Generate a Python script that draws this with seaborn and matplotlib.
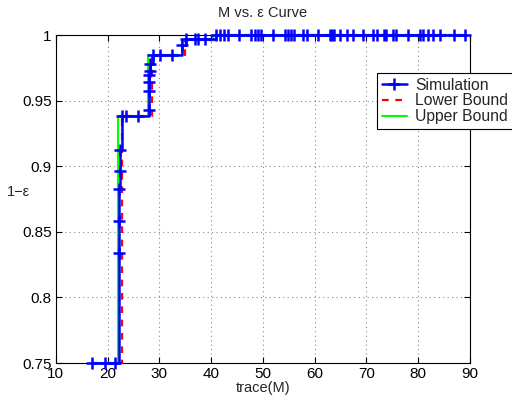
import matplotlib
matplotlib.use("Agg")
import matplotlib.pyplot as plt
import seaborn as sns
import pandas as pd

# ---- data ----
sim_x = [17.0, 19.5, 21.5, 22.2, 22.3, 22.3, 22.4, 22.4, 22.7, 23.5, 25.9,
         28.0, 28.0, 28.1, 28.1, 28.2, 28.2, 28.7, 30.2, 32.5, 34.4,
         35.1, 36.9, 37.5, 38.9, 41.0, 41.7, 42.5, 43.3, 45.4, 47.8, 48.5,
         49.1, 49.6, 51.9, 54.3, 54.9, 55.5, 56.0, 57.8, 58.6, 60.7, 62.9,
         63.3, 63.7, 64.9, 66.2, 67.4, 69.4, 71.2, 72.0, 73.4, 73.8, 75.2,
         75.8, 78.1, 80.3, 80.9, 81.9, 82.9, 84.2, 86.9, 89.0]
sim_y = [0.75, 0.75, 0.75, 0.834, 0.858, 0.883, 0.896, 0.912, 0.9385, 0.9385, 0.9385,
         0.9428, 0.9575, 0.9644, 0.9695, 0.9728, 0.9779, 0.9848, 0.9848, 0.9848, 0.9925,
         0.997, 0.997, 0.997, 0.997, 1.0, 1.0, 1.0, 1.0, 1.0, 1.0, 1.0,
         1.0, 1.0, 1.0, 1.0, 1.0, 1.0, 1.0, 1.0, 1.0, 1.0, 1.0,
         1.0, 1.0, 1.0, 1.0, 1.0, 1.0, 1.0, 1.0, 1.0, 1.0, 1.0,
         1.0, 1.0, 1.0, 1.0, 1.0, 1.0, 1.0, 1.0, 1.0]

low_x = [17.0, 22.7, 28.6, 35.0, 40.8, 89.0]
low_y = [0.75, 0.9385, 0.9848, 0.9964, 1.0, 1.0]

up_x = [17.0, 22.0, 27.85, 34.3, 40.3, 89.0]
up_y = [0.75, 0.9385, 0.9848, 0.9964, 1.0, 1.0]

x_ticks = [10, 20, 30, 40, 50, 60, 70, 80, 90]
y_ticks = [0.75, 0.8, 0.85, 0.9, 0.95, 1.0]
y_tick_labels = ["0.75", "0.8", "0.85", "0.9", "0.95", "1"]

sns.set_theme(style="white")
plt.rcParams['font.family'] = ['Liberation Sans', 'DejaVu Sans']

fig = plt.figure(figsize=(5.12, 3.96), dpi=100)
ax = fig.add_axes([0.109, 0.0833, 0.8086, 0.8283])

sim_df = pd.DataFrame({"x": sim_x, "y": sim_y})
low_df = pd.DataFrame({"x": low_x, "y": low_y})
up_df = pd.DataFrame({"x": up_x, "y": up_y})

sns.lineplot(data=sim_df, x="x", y="y", ax=ax, sort=False, estimator=None,
             drawstyle="steps-post", color=(0, 0, 1), linewidth=1.8,
             marker="+", markersize=8.5, markeredgewidth=1.8,
             markeredgecolor=(0, 0, 1), label="Simulation", zorder=5,
             clip_on=False)
sns.lineplot(data=low_df, x="x", y="y", ax=ax, sort=False, estimator=None,
             drawstyle="steps-post", color=(1, 0, 0), linewidth=1.6,
             linestyle=(0, (3, 3)), label="Lower Bound", zorder=3,
             clip_on=False)
sns.lineplot(data=up_df, x="x", y="y", ax=ax, sort=False, estimator=None,
             drawstyle="steps-post", color=(0, 1, 0), linewidth=1.5,
             label="Upper Bound", zorder=4, clip_on=False)

ax.set_xlim(10, 90)
ax.set_ylim(0.75, 1.0)
ax.set_xticks(x_ticks)
ax.set_xticklabels([str(t) for t in x_ticks])
ax.set_yticks(y_ticks)
ax.set_yticklabels(y_tick_labels)
ax.grid(True, linestyle=(0, (1, 3)), color="#888888", linewidth=0.8)
for s in ax.spines.values():
    s.set_color("black")
    s.set_linewidth(0.8)
    s.set_visible(True)
ax.tick_params(axis="both", direction="in", length=4, width=0.8, colors="black",
               labelsize=11, top=True, right=True, bottom=True, left=True, pad=3)

ax.set_title("M vs. \u03b5 Curve", fontsize=10.5, pad=13)
ax.set_xlabel("trace(M)", fontsize=10.5, labelpad=0)
ax.set_ylabel("1\u2212\u03b5", fontsize=10.5, rotation=0)
ax.yaxis.set_label_coords(-0.09, 0.5)

leg = ax.legend(loc="upper left", bbox_to_anchor=(0.736, 0.816),
                bbox_transform=fig.transFigure, fontsize=11.3, frameon=True,
                fancybox=False, edgecolor="black", framealpha=1,
                handlelength=1.65, borderpad=0.3, labelspacing=0.05,
                handletextpad=0.5, borderaxespad=0)
leg.get_frame().set_linewidth(0.8)

fig.savefig("out.png", dpi=100)
